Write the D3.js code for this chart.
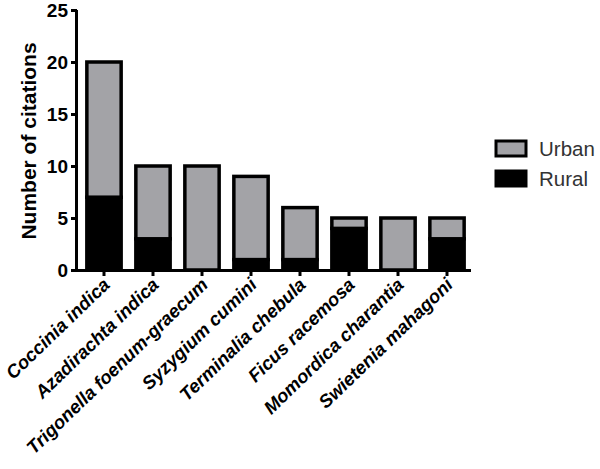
<!DOCTYPE html>
<html>
<head>
<meta charset="utf-8">
<script src="https://cdn.jsdelivr.net/npm/d3@7"></script>
<style>
  body { margin: 0; background: #fff; }
  svg text { font-family: "Liberation Sans", Arial, sans-serif; }
</style>
</head>
<body>
<script>
const width = 600;
const height = 469;

const species = ['Coccinia indica', 'Azadirachta indica', 'Trigonella foenum-graecum',
  'Syzygium cumini', 'Terminalia chebula', 'Ficus racemosa',
  'Momordica charantia', 'Swietenia mahagoni'];
const rural = [7, 3, 0, 1, 1, 4, 0, 3];
const urban = [13, 7, 10, 8, 5, 1, 5, 2];
const yTicks = [0, 5, 10, 15, 20, 25];
const seriesNames = ['Urban', 'Rural'];
const seriesColors = { Urban: '#a3a3a7', Rural: '#000000' };

const svg = d3.select('body').append('svg')
  .attr('width', width)
  .attr('height', height);

const x = d3.scaleBand()
  .domain(species)
  .range([79.5, 471.5])
  .paddingInner(0.3)
  .paddingOuter(0.15);

const y = d3.scaleLinear()
  .domain([0, 25])
  .range([270, 10]);

const rows = species.map((s, i) => ({ name: s, Rural: rural[i], Urban: urban[i] }));
const stacked = d3.stack().keys(['Rural', 'Urban'])(rows);

// bars
svg.append('g').selectAll('g')
  .data(stacked)
  .join('g')
  .attr('fill', d => seriesColors[d.key])
  .selectAll('rect')
  .data(d => d.filter(p => p[1] > p[0]))
  .join('rect')
  .attr('x', d => x(d.data.name))
  .attr('width', x.bandwidth())
  .attr('y', d => y(d[1]))
  .attr('height', d => y(d[0]) - y(d[1]))
  .attr('stroke', '#000')
  .attr('stroke-width', 3.5);

// axes
const yAxis = svg.append('g')
  .attr('transform', 'translate(77,0)')
  .call(d3.axisLeft(y).tickValues(yTicks).tickSize(6).tickPadding(3));

const xAxis = svg.append('g')
  .attr('transform', 'translate(0,270)')
  .call(d3.axisBottom(x).tickSize(6).tickSizeOuter(0).tickFormat(''));

xAxis.select('.domain').attr('d', 'M77,0.5H471').attr('stroke', '#000').attr('stroke-width', 3);
xAxis.selectAll('.tick line').attr('stroke-width', 3);
yAxis.select('.domain').attr('d', 'M-0.5,270V10').attr('stroke-width', 3);
yAxis.selectAll('.tick line').attr('stroke-width', 3);
yAxis.selectAll('.tick text')
  .style('font-size', '19px')
  .style('font-weight', 'bold')
  .attr('fill', '#000');

// rotated category labels
xAxis.selectAll('.tick')
  .append('text')
  .attr('fill', '#000')
  .attr('text-anchor', 'end')
  .attr('transform', 'translate(7,16) rotate(-44)')
  .style('font-size', '18.5px')
  .style('font-weight', 'bold')
  .style('font-style', 'italic')
  .text(d => d);

// y title
svg.append('text')
  .attr('transform', 'translate(36,141) rotate(-90)')
  .attr('text-anchor', 'middle')
  .style('font-size', '21px')
  .style('font-weight', 'bold')
  .text('Number of citations');

// legend
const legend = svg.append('g').attr('transform', 'translate(496,141)');
legend.selectAll('rect')
  .data(seriesNames)
  .join('rect')
  .attr('x', 0)
  .attr('y', (d, i) => i * 30)
  .attr('width', 30)
  .attr('height', 15)
  .attr('fill', d => seriesColors[d])
  .attr('stroke', '#000')
  .attr('stroke-width', 3);
legend.selectAll('text')
  .data(seriesNames)
  .join('text')
  .attr('x', 43)
  .attr('y', (d, i) => i * 30 + 15)
  .attr('fill', '#333')
  .style('font-size', '20.5px')
  .text(d => d);
</script>
</body>
</html>
